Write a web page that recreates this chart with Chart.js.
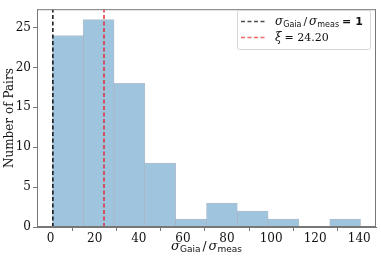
<!DOCTYPE html>
<html>
<head>
<meta charset="utf-8">
<script src="https://cdn.jsdelivr.net/npm/chart.js@4"></script>
<style>
  html, body { margin: 0; padding: 0; background: #fff; }
  #wrap { width: 381px; height: 261px; }
</style>
</head>
<body>
<div id="wrap"><canvas id="myChart" width="381" height="261"></canvas></div>
<script>
// histogram bins (left edges) and counts
const binEdges = [0.8, 14.78, 28.76, 42.74, 56.72, 70.7, 84.68, 98.66, 112.64, 126.62, 140.6];
const counts = [24, 26, 18, 8, 1, 3, 2, 1, 0, 1];
const xTicks = [0, 20, 40, 60, 80, 100, 120, 140];
const yTicks = [0, 5, 10, 15, 20, 25];
const unityLine = 1;
const xiLine = 24.20;

const xMin = -6.2, xMax = 147.6;
const yMax = 27.3;

const barData = counts.map((c, i) => ({ x: (binEdges[i] + binEdges[i + 1]) / 2, y: c }));

const serif = "'DejaVu Serif', 'Liberation Serif', serif";
const sans = "'DejaVu Sans', sans-serif";

function drawParts(ctx, parts, x, y, align) {
  let w = 0;
  parts.forEach(p => { ctx.font = p.font; w += ctx.measureText(p.t).width + (p.gap || 0); });
  let cx = align === 'center' ? x - w / 2 : x;
  ctx.textBaseline = 'alphabetic';
  ctx.textAlign = 'left';
  parts.forEach(p => {
    ctx.font = p.font;
    ctx.fillText(p.t, cx, y + (p.dy || 0));
    cx += ctx.measureText(p.t).width + (p.gap || 0);
  });
}

const extras = {
  id: 'extras',
  afterDraw(chart) {
    const ctx = chart.ctx;
    const a = chart.chartArea;
    ctx.save();
    // frame
    ctx.strokeStyle = '#777';
    ctx.lineWidth = 1;
    ctx.strokeRect(a.left + 0.5, a.top + 0.5, a.right - a.left - 1, a.bottom - a.top - 1);

    ctx.fillStyle = '#111';
    // y title
    ctx.save();
    ctx.translate(10, (a.top + a.bottom) / 2);
    ctx.rotate(-Math.PI / 2);
    ctx.font = '12px ' + serif;
    ctx.textAlign = 'center';
    ctx.textBaseline = 'middle';
    ctx.fillText('Number of Pairs', 0, 0);
    ctx.restore();

    // x title
    const sig = 'italic 13px ' + serif;
    const sub = '9px ' + sans;
    drawParts(ctx, [
      { t: 'σ', font: sig },
      { t: 'Gaia', font: sub, dy: 2, gap: 2 },
      { t: '/', font: '12px ' + sans, gap: 2 },
      { t: 'σ', font: sig },
      { t: 'meas', font: sub, dy: 2 }
    ], (a.left + a.right) / 2, 250, 'center');

    // legend
    const lx = 237, ly = 10, lw = 133, lh = 39;
    ctx.fillStyle = 'rgba(255,255,255,0.85)';
    ctx.strokeStyle = '#d6d6d6';
    ctx.beginPath();
    ctx.roundRect(lx + 0.5, ly + 0.5, lw, lh, 2);
    ctx.fill();
    ctx.stroke();

    const rows = [
      { color: 'rgba(0,0,0,0.7)', y: 21 },
      { color: 'rgba(230,40,40,0.7)', y: 37 }
    ];
    rows.forEach(r => {
      ctx.strokeStyle = r.color;
      ctx.lineWidth = 1.3;
      ctx.setLineDash([4, 2.5]);
      ctx.beginPath();
      ctx.moveTo(241, r.y + 0.5);
      ctx.lineTo(265, r.y + 0.5);
      ctx.stroke();
    });
    ctx.setLineDash([]);
    ctx.fillStyle = '#111';
    drawParts(ctx, [
      { t: 'σ', font: 'italic 12px ' + serif },
      { t: 'Gaia', font: '8px ' + sans, dy: 2, gap: 2 },
      { t: '/', font: '11px ' + sans, gap: 2 },
      { t: 'σ', font: 'italic 12px ' + serif },
      { t: 'meas', font: '8px ' + sans, dy: 2, gap: 3 },
      { t: '= 1', font: 'bold 11px ' + sans }
    ], 275, 25, 'left');
    drawParts(ctx, [
      { t: 'ξ', font: 'italic 12px ' + serif, gap: 3 },
      { t: '= 24.20', font: '11px ' + serif }
    ], 275, 41, 'left');
    ctx.restore();
  }
};

const config = {
  type: 'bar',
  data: {
    datasets: [
      {
        type: 'bar',
        data: barData,
        backgroundColor: 'rgb(158,196,222)',
        borderColor: 'rgba(110,140,170,0.55)',
        borderWidth: 1,
        barPercentage: 1,
        categoryPercentage: 1,
        order: 2
      },
      {
        type: 'line',
        data: [{ x: unityLine, y: 0 }, { x: unityLine, y: yMax }],
        borderColor: '#000',
        borderWidth: 1.4,
        borderDash: [4, 2.5],
        pointRadius: 0,
        order: 1
      },
      {
        type: 'line',
        data: [{ x: xiLine, y: 0 }, { x: xiLine, y: yMax }],
        borderColor: '#e8202a',
        borderWidth: 1.4,
        borderDash: [4, 2.5],
        pointRadius: 0,
        order: 1
      }
    ]
  },
  options: {
    responsive: false,
    animation: false,
    layout: { padding: { top: 4, right: 5, left: 0, bottom: 0 } },
    plugins: { legend: { display: false }, tooltip: { enabled: false } },
    scales: {
      x: {
        type: 'linear',
        min: xMin,
        max: xMax,
        offset: false,
        afterBuildTicks: s => { s.ticks = xTicks.map(v => ({ value: v })); },
        afterFit: s => { s.height = 34; },
        grid: { drawOnChartArea: false, drawTicks: true, tickLength: 4, color: '#777' },
        border: { color: '#777' },
        ticks: { font: { family: serif, size: 12 }, color: '#111', padding: 1, maxRotation: 0 }
      },
      y: {
        min: 0,
        max: yMax,
        afterBuildTicks: s => { s.ticks = yTicks.map(v => ({ value: v })); },
        afterFit: s => { s.width = 37; },
        grid: { drawOnChartArea: false, drawTicks: true, tickLength: 4, color: '#777' },
        border: { color: '#777' },
        ticks: { font: { family: serif, size: 12 }, color: '#111', padding: 2 }
      }
    }
  },
  plugins: [extras]
};

const myChart = new Chart(document.getElementById('myChart'), config);
</script>
</body>
</html>
